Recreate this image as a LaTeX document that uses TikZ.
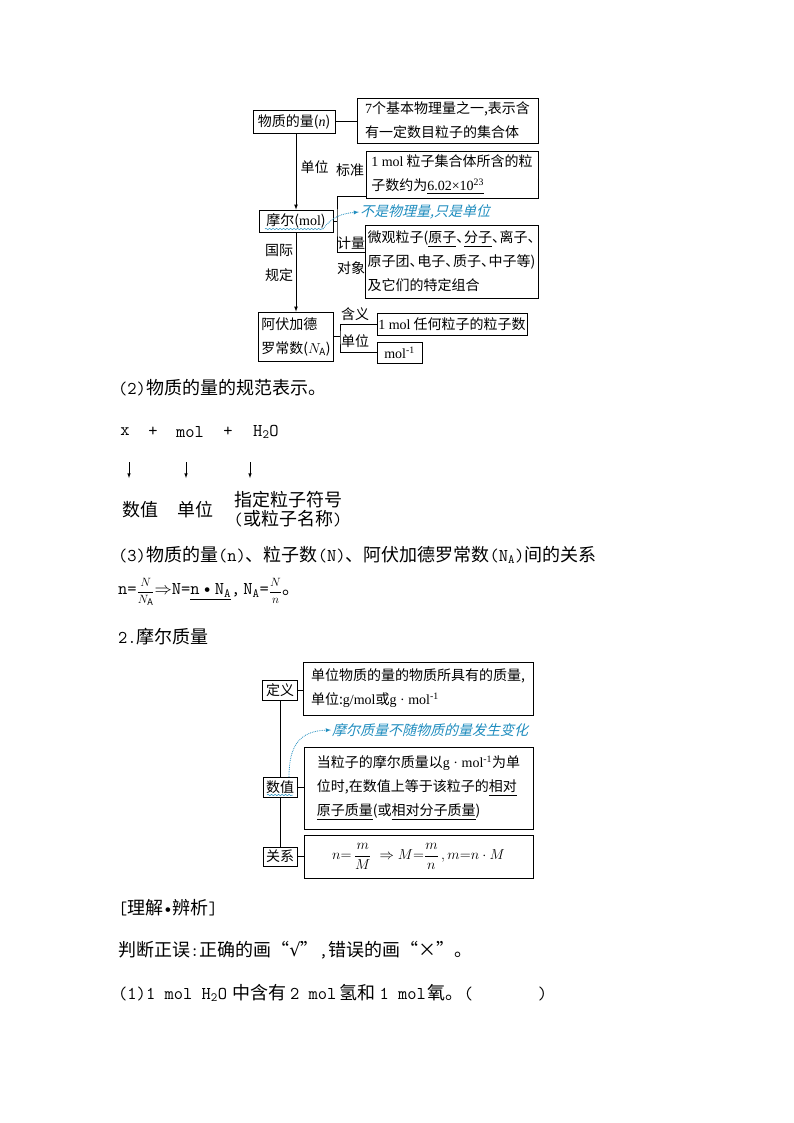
\documentclass[tikz,border=0pt]{standalone}
\usepackage{amsmath}
\usepackage{fontspec}
\setmainfont{Noto Sans CJK SC}
\newfontfamily\latf{Liberation Serif}
\newcommand\monof{\ttfamily}
\newfontfamily\slantf[FakeSlant=0.25]{Noto Sans CJK SC}
\newfontfamily\symf{DejaVu Sans}
\usetikzlibrary{decorations.pathmorphing}
\definecolor{notecol}{RGB}{30,140,190}
\newcommand\dun{\makebox[0.55em][l]{、}}

\tikzset{
  box/.style={draw, line width=0.8pt, fill=white, inner sep=0pt, align=left,
    font=\fontsize{14}{24}\selectfont},
  tag/.style={font=\fontsize{14}{16}\selectfont},
  note/.style={anchor=west, inner sep=1pt, text=notecol, font=\fontsize{14}{16}\slantf},
  wire/.style={line width=0.7pt},
  dots/.style={notecol, densely dotted, line width=0.8pt, -latex},
  wave/.style={notecol, line width=0.5pt, decorate,
    decoration={snake, amplitude=0.7pt, segment length=3.5pt}},
  body/.style={anchor=west, inner sep=0pt, font=\fontsize{18}{21}\selectfont},
}

\begin{document}
\begin{tikzpicture}[x=1pt, y=-1pt, >=latex]
  \useasboundingbox (0,0) rectangle (794,1123);
  % 物质的量
  \node[box, minimum width=82pt, minimum height=23pt] (qty) at (294,121.5) {物质的量({\latf\itshape n})};
  \node[box, minimum width=181pt, minimum height=45pt] (basic) at (447.5,120.5)
    {{\latf 7}个基本物理量之一,表示含\\有一定数目粒子的集合体};
  \draw[wire] (qty.east) -- (qty.east -| basic.west);
  \node[box, minimum width=74pt, minimum height=22pt] (mol) at (296,221) {摩尔({\latf mol})};
  \draw[wire, ->] (qty.south -| mol.north) -- (mol.north);
  \node[tag] (unitlbl) at (314.5,167) {单位};
  % 标准 / 计量对象
  \node[box, minimum width=172pt, minimum height=47pt] (std) at (452,174.5)
    {{\latf 1 mol} 粒子集合体所含的粒\\子数约为\underline{\latf 6.02×10\textsuperscript{23}}};
  \node[box, minimum width=173pt, minimum height=73pt] (obj) at (451.5,261.5)
    {微观粒子(\underline{原子}\dun\underline{分子}\dun 离子\dun\\原子团\dun 电子\dun 质子\dun 中子等)\\及它们的特定组合};
  \node[tag] (stdlbl) at (350,170) {标准};
  \node[tag] (cntlbl) at (351,243) {计量};
  \node[tag] (objlbl) at (351,268) {对象};
  \coordinate (brk) at (337,221);
  \draw[wire] (mol.east) -- (brk);
  \draw[wire] ([yshift=2pt]std.south west) -| (brk) |- ([yshift=9.5pt]obj.west);
  % 不是物理量
  \coordinate (w1s) at (265,229);
  \coordinate (w1e) at (323,229);
  \draw[wave] (w1s) -- (w1e);
  \node[note] (note1) at (359,212) {不是物理量,只是单位};
  \draw[dots] (w1e) to[out=55, in=185] (note1.west);
  % 阿伏加德罗常数
  \node[box, minimum width=75pt, minimum height=49pt] (avog) at (296,336.5) {阿伏加德\\罗常数($N_{\mathrm A}$)};
  \draw[wire, ->] (mol.south) -- (avog.north);
  \node[tag] (intl1) at (279,250) {国际};
  \node[tag] (intl2) at (279,275) {规定};
  \node[box, minimum width=150pt, minimum height=22pt] (mean) at (452,324) {{\latf 1 mol} 任何粒子的粒子数};
  \node[box, minimum width=45pt, minimum height=21pt] (unitb) at (399.5,352.5) {{\latf mol\textsuperscript{-1}}};
  \coordinate (brk2) at (340,336.5);
  \draw[wire] (avog.east) -- (brk2);
  \draw[wire] (mean.west) -| (brk2) |- (unitb.west);
  \node[tag] (meanlbl) at (355,314) {含义};
  \node[tag] (unitlbl2) at (355,341) {单位};

  % 规范表示
  \node[body] (part2) at (118,388) {{\monof (2)}物质的量的规范表示。};
  \node[body, anchor=center] (tx) at (125,432) {\monof x};
  \node[body, anchor=center] (tp1) at (153,432) {\monof +};
  \node[body, anchor=center] (tmol) at (190,432) {\monof mol};
  \node[body, anchor=center] (tp2) at (228,432) {\monof +};
  \node[body, anchor=center] (th2o) at (266,432) {\monof H\textsubscript{2}O};
  \coordinate (a1) at (129,462);
  \coordinate (a2) at (186,462);
  \coordinate (a3) at (250,462);
  \foreach \a in {a1,a2,a3}
    \draw[line width=0.6pt, ->] (\a) -- ++(0,16);
  \node[body, anchor=center] (numlbl) at (140,510) {数值};
  \node[body, anchor=center] (unitlbl3) at (195,510) {单位};
  \node[body, anchor=center] (spec1) at (288,500) {指定粒子符号};
  \node[body, anchor=center] (spec2) at (288,519) {{\monof (}或粒子名称{\monof )}};

  % 关系
  \node[body] (part3) at (118,555)
    {{\monof (3)}物质的量{\monof (n)}、粒子数{\monof (N)}、阿伏加德罗常数{\monof (N\textsubscript{A})}间的关系};
  \node[body] (form1) at (118,592)
    {{\monof n=}{\fontsize{13}{15}\selectfont$\dfrac{N}{N_{\mathrm A}}$}$\Rightarrow${\monof N=}\underline{\monof n\,•\,N\textsubscript{A}}{\monof ,\,N\textsubscript{A}=}{\fontsize{13}{15}\selectfont$\dfrac{N}{n}$}。};
  \node[body] (part4) at (118,637) {{\monof 2.}摩尔质量};

  % 摩尔质量
  \node[box, minimum width=35pt, minimum height=20pt] (defn) at (280,690) {定义};
  \node[box, minimum width=230pt, minimum height=53pt] (defbox) at (418,688.5)
    {单位物质的量的物质所具有的质量,\\单位:{\latf g/mol}或{\latf g · mol\textsuperscript{-1}}};
  \node[box, minimum width=34pt, minimum height=20pt] (numv) at (280,787) {数值};
  \node[box, minimum width=229pt, minimum height=82pt] (valbox) at (418.5,788)
    {当粒子的摩尔质量以{\latf g · mol\textsuperscript{-1}}为单\\位时,在数值上等于该粒子的\underline{相对}\\\underline{原子质量}(或\underline{相对分子质量})};
  \node[box, minimum width=34pt, minimum height=19pt] (rel) at (280,856.5) {关系};
  \node[box, minimum width=229pt, minimum height=43pt, font=\fontsize{13.5}{15}\selectfont] (relbox) at (418.5,856.5)
    {$n{=}\,\dfrac{m}{M}\;\Rightarrow M{=}\dfrac{m}{n}\,,m{=}n\cdot M$};
  \draw[wire] (defn.south) -- (numv.north);
  \draw[wire] (numv.south) -- (rel.north);
  \draw[wire] (defn.east) -- (defn.east -| defbox.west);
  \draw[wire] (numv.east) -- (numv.east -| valbox.west);
  \draw[wire] (rel.east) -- (rel.east -| relbox.west);
  \coordinate (w2s) at (267,795);
  \coordinate (w2e) at (293,795);
  \draw[wave] (w2s) -- (w2e);
  \coordinate (d2) at (289,777);
  \node[note] (note2) at (331,730) {摩尔质量不随物质的量发生变化};
  \draw[dots] (d2) .. controls (289,745) and (300,731) .. (note2.west);

  % 理解辨析
  \node[body] (judge0) at (118,908) {{\monof [}理解{\monof •}辨析{\monof ]}};
  \node[body] (judge1) at (118,950) {判断正误{\monof :}正确的画“{\symf √}”{\monof ,}错误的画“×”。};
  \node[body] (judge2) at (118,993)
    {{\monof (1)1 mol H\textsubscript{2}O}\hspace{5pt}中含有\hspace{4pt}{\monof 2 mol}\hspace{3pt}氢和\hspace{4pt}{\monof 1 mol}\hspace{2pt}氧。{\monof (\hspace{3.6em})}};
\end{tikzpicture}
\end{document}
